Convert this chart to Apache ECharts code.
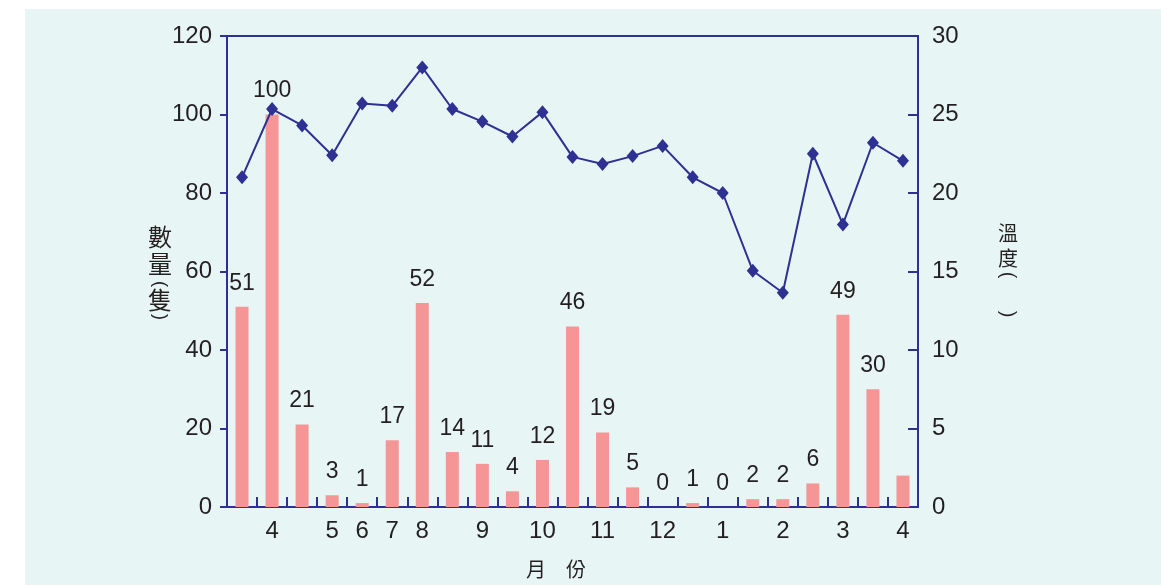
<!DOCTYPE html>
<html>
<head>
<meta charset="utf-8">
<script src="https://cdn.jsdelivr.net/npm/echarts@6/dist/echarts.min.js"></script>
<style>
html,body{margin:0;padding:0;background:#ffffff;}
#bg{position:absolute;left:25px;top:9px;width:1136px;height:576px;background:#E8F5F5;}
#chart{position:absolute;left:0;top:0;width:1161px;height:585px;}
</style>
</head>
<body>
<div id="bg"></div>
<div id="chart"></div>
<script>
// Month tick labels (one per category; blanks where the original shows none)
var categories = ['', '4', '', '5', '6', '7', '8', '', '9', '', '10', '', '11', '', '12', '', '1', '', '2', '', '3', '', '4'];
// Number of individuals (left axis)
var counts = [51, 100, 21, 3, 1, 17, 52, 14, 11, 4, 12, 46, 19, 5, 0, 1, 0, 2, 2, 6, 49, 30, 8];
// Which bars carry a value label
var showLabel = [1,1,1,1,1,1,1,1,1,1,1,1,1,1,1,1,1,1,1,1,1,1,0];
// Temperature (right axis)
var temps = [21.0, 25.35, 24.3, 22.4, 25.7, 25.55, 28.0, 25.35, 24.55, 23.6, 25.15, 22.3, 21.85, 22.35, 23.0, 21.0, 20.0, 15.05, 13.65, 22.5, 18.0, 23.2, 22.05];
var leftTicks = {min: 0, max: 120, interval: 20};
var rightTicks = {min: 0, max: 30, interval: 5};
// Axis titles (vertical, one glyph per entry; brackets drawn turned)
var leftTitle = ['數', '量', '(', '隻', ')'];
var rightTitle = ['溫', '度', '(', ')'];
var xTitle = '月　份';

var axisColor = '#2E3192';
var textColor = '#231F20';
var numFont = '"Liberation Sans", Arial, sans-serif';
var cjkFont = '"Noto Sans CJK TC", sans-serif';

var barData = counts.map(function (v, i) {
  return showLabel[i] ? v : {value: v, label: {show: false}};
});

function isBracket(ch) { return ch === '(' || ch === ')'; }
var leftY = [237, 264, 284, 300, 317];
var rightY = [233, 258, 275, 314];
var graphics = [];
function addVertical(list, ys, x, size, bsize) {
  list.forEach(function (ch, i) {
    var br = isBracket(ch);
    graphics.push({
      type: 'text', x: x, y: ys[i], rotation: br ? -Math.PI / 2 : 0,
      style: {text: ch, font: (br ? bsize : size) + 'px ' + (br ? numFont : cjkFont), fill: textColor, textAlign: 'center', textVerticalAlign: 'middle'}
    });
  });
}
addVertical(leftTitle, leftY, 160, 24, 18);
addVertical(rightTitle, rightY, 1008, 20, 20);
graphics.push({type: 'text', x: 556, y: 569, style: {text: xTitle, font: '20px ' + cjkFont, fill: textColor, textAlign: 'center', textVerticalAlign: 'middle'}});

var chart = echarts.init(document.getElementById('chart'));
chart.setOption({
  animation: false,
  grid: {left: 227, right: 243, top: 36, bottom: 78, show: true, borderColor: axisColor, borderWidth: 2, backgroundColor: 'transparent'},
  xAxis: {
    type: 'category',
    data: categories,
    boundaryGap: true,
    axisLine: {lineStyle: {color: axisColor, width: 2}},
    axisTick: {show: true, inside: true, length: 10, interval: 0, lineStyle: {color: axisColor, width: 2}},
    axisLabel: {interval: 0, margin: 12, color: textColor, fontSize: 24, fontFamily: numFont},
    splitLine: {show: false}
  },
  yAxis: [{
    type: 'value',
    min: leftTicks.min, max: leftTicks.max, interval: leftTicks.interval,
    position: 'left',
    axisLine: {show: true, lineStyle: {color: axisColor, width: 2}},
    axisTick: {show: true, inside: false, length: 7, lineStyle: {color: axisColor, width: 2}},
    axisLabel: {margin: 15, color: textColor, fontSize: 24, fontFamily: numFont},
    splitLine: {show: false}
  }, {
    type: 'value',
    min: rightTicks.min, max: rightTicks.max, interval: rightTicks.interval,
    position: 'right',
    axisLine: {show: true, lineStyle: {color: axisColor, width: 2}},
    axisTick: {show: true, inside: true, length: 10, lineStyle: {color: axisColor, width: 2}},
    axisLabel: {margin: 14, color: textColor, fontSize: 24, fontFamily: numFont},
    splitLine: {show: false}
  }],
  series: [{
    type: 'bar',
    yAxisIndex: 0,
    data: barData,
    barWidth: 13,
    itemStyle: {color: '#F69596'},
    label: {show: true, position: 'top', distance: 12, color: textColor, fontSize: 23, fontFamily: numFont},
    z: 2
  }, {
    type: 'line',
    yAxisIndex: 1,
    data: temps,
    symbol: 'diamond',
    symbolSize: [12, 14],
    lineStyle: {color: axisColor, width: 2},
    itemStyle: {color: axisColor},
    z: 3
  }],
  graphic: graphics
});
</script>
</body>
</html>
